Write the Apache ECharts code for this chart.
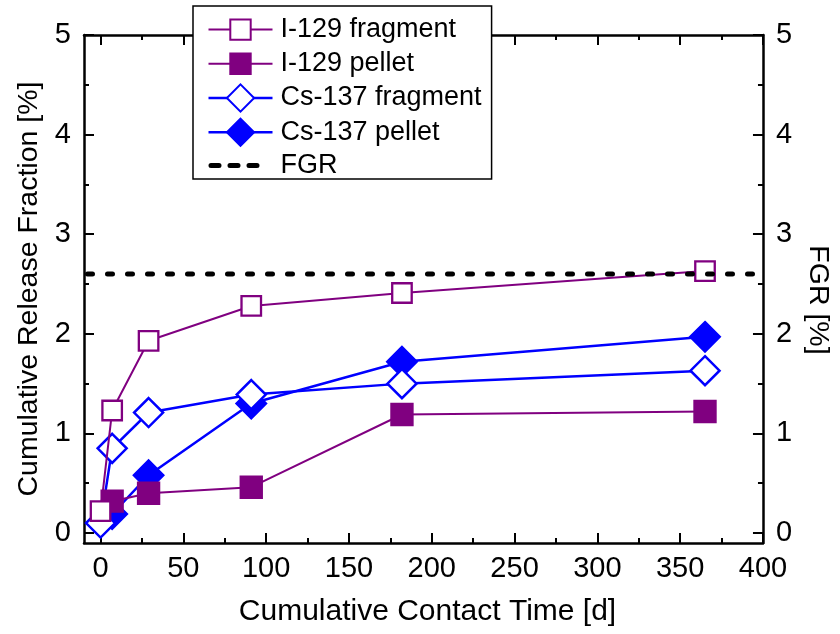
<!DOCTYPE html>
<html><head><meta charset="utf-8">
<script src="https://cdn.jsdelivr.net/npm/echarts@6/dist/echarts.min.js"></script>
<style>html,body{margin:0;padding:0;background:#fff}#c{width:840px;height:634px}</style>
</head><body><div id="c"></div>
<script>
// ---- data ----
const seriesNames = ['I-129 fragment', 'I-129 pellet', 'Cs-137 fragment', 'Cs-137 pellet', 'FGR'];
const i129FragmentTime = [0, 7, 29, 91, 182, 365];
const i129FragmentRelease = [0.22, 1.23, 1.93, 2.28, 2.41, 2.63];
const i129PelletTime = [7, 29, 91, 182, 365];
const i129PelletRelease = [0.32, 0.40, 0.46, 1.19, 1.22];
const cs137FragmentTime = [0, 7, 29, 91, 182, 365];
const cs137FragmentRelease = [0.10, 0.85, 1.21, 1.39, 1.50, 1.63];
const cs137PelletTime = [7, 29, 91, 182, 365];
const cs137PelletRelease = [0.19, 0.58, 1.30, 1.72, 1.97];
const fgrValue = 2.6;
const xMajorTicks = [0, 50, 100, 150, 200, 250, 300, 350, 400];
const xMinorTicks = [25, 75, 125, 175, 225, 275, 325, 375];
const yMajorTicks = [0, 1, 2, 3, 4, 5];
const yMinorTicks = [0.5, 1.5, 2.5, 3.5, 4.5];
const xMin = -10, xMax = 400, yMin = -0.1, yMax = 5;

// ---- styling ----
const FONT = '"Liberation Sans", Arial, sans-serif';
const PURPLE = '#800080', BLUE = '#0000FF';
const SQUARE = 'path://M0,0M40,40M5,5h30v30h-30z';
const pts = (xs, ys) => xs.map((x, i) => [x, ys[i]]);

function xAx(position, ticks, len, labels, line) {
  return {
    type: 'value', position, min: xMin, max: xMax,
    axisLine: { show: line, onZero: false, lineStyle: { color: '#000', width: 2.5 } },
    axisTick: { show: true, inside: true, length: len, customValues: ticks, lineStyle: { color: '#000', width: 2 } },
    axisLabel: { show: labels, customValues: ticks, fontSize: 29, color: '#000', fontFamily: FONT, margin: 11 },
    splitLine: { show: false }, minorTick: { show: false }
  };
}
function yAx(position, ticks, len, labels, line) {
  return {
    type: 'value', position, min: yMin, max: yMax,
    axisLine: { show: line, onZero: false, lineStyle: { color: '#000', width: 2.5 } },
    axisTick: { show: true, inside: true, length: len, customValues: ticks, lineStyle: { color: '#000', width: 2 } },
    axisLabel: { show: labels, customValues: ticks, fontSize: 29, color: '#000', fontFamily: FONT, margin: 13 },
    splitLine: { show: false }, minorTick: { show: false }
  };
}

const xBottom = xAx('bottom', xMajorTicks, 10, true, true);
xBottom.name = 'Cumulative Contact Time [d]';
xBottom.nameLocation = 'middle';
xBottom.nameGap = 54;
xBottom.nameTextStyle = { fontSize: 30, color: '#000', fontFamily: FONT, padding: [0, 0, 0, 8] };

const yLeft = yAx('left', yMajorTicks, 10, true, true);
yLeft.name = 'Cumulative Release Fraction [%]';
yLeft.nameLocation = 'middle';
yLeft.nameGap = 33;
yLeft.nameTextStyle = { fontSize: 28.5, color: '#000', fontFamily: FONT };

const yRight = yAx('right', yMajorTicks, 10, true, true);
yRight.name = 'FGR [%]';
yRight.nameLocation = 'middle';
yRight.nameRotate = -90;
yRight.nameGap = 33;
yRight.nameTextStyle = { fontSize: 28.5, color: '#000', fontFamily: FONT, padding: [0, 0, 0, 22] };

const option = {
  animation: false,
  backgroundColor: '#fff',
  grid: { left: 84, right: 70, top: 35, bottom: 91 },
  xAxis: [
    xBottom,
    xAx('bottom', xMinorTicks, 5, false, false),
    xAx('top', xMajorTicks, 10, false, true),
    xAx('top', xMinorTicks, 5, false, false)
  ],
  yAxis: [
    yLeft,
    yAx('left', yMinorTicks, 5, false, false),
    yRight,
    yAx('right', yMinorTicks, 5, false, false)
  ],
  legend: {
    left: 193, top: 6, orient: 'vertical',
    itemWidth: 64, itemHeight: 34, itemGap: 5,
    padding: [9, 10, 0, 13],
    borderColor: '#000', borderWidth: 1.5, backgroundColor: '#fff',
    selectedMode: false,
    textStyle: { fontSize: 27, color: '#000', fontFamily: FONT, padding: [0, 0, 0, 3] },
    data: [
      { name: seriesNames[0], lineStyle: { width: 2, color: PURPLE } },
      { name: seriesNames[1], lineStyle: { width: 2, color: PURPLE } },
      { name: seriesNames[2], lineStyle: { width: 2.5, color: BLUE } },
      { name: seriesNames[3], lineStyle: { width: 2.5, color: BLUE } },
      { name: seriesNames[4], itemStyle: { opacity: 0 },
        lineStyle: { width: 5, color: '#000', type: [8, 11, 8, 11, 8, 40], dashOffset: -2.5, cap: 'round' } }
    ]
  },
  series: [
    {
      name: seriesNames[0], type: 'line', z: 5, data: pts(i129FragmentTime, i129FragmentRelease),
      symbol: SQUARE, symbolSize: 26,
      itemStyle: { color: '#fff', borderColor: PURPLE, borderWidth: 2.3 },
      lineStyle: { color: PURPLE, width: 2 }, emphasis: { disabled: true }
    },
    {
      name: seriesNames[1], type: 'line', z: 4, data: pts(i129PelletTime, i129PelletRelease),
      symbol: SQUARE, symbolSize: 28.5,
      itemStyle: { color: PURPLE, borderColor: PURPLE, borderWidth: 2 },
      lineStyle: { color: PURPLE, width: 2 }, emphasis: { disabled: true }
    },
    {
      name: seriesNames[2], type: 'line', z: 3, data: pts(cs137FragmentTime, cs137FragmentRelease),
      symbol: 'diamond', symbolSize: 29,
      itemStyle: { color: '#fff', borderColor: BLUE, borderWidth: 2.5 },
      lineStyle: { color: BLUE, width: 2.5 }, emphasis: { disabled: true }
    },
    {
      name: seriesNames[3], type: 'line', z: 2, data: pts(cs137PelletTime, cs137PelletRelease),
      symbol: 'diamond', symbolSize: 30,
      itemStyle: { color: BLUE, borderColor: BLUE, borderWidth: 2 },
      lineStyle: { color: BLUE, width: 2.5 }, emphasis: { disabled: true }
    },
    {
      name: seriesNames[4], type: 'line', z: 6, data: [[xMin, fgrValue], [xMax, fgrValue]],
      symbol: 'none', itemStyle: { color: 'rgba(0,0,0,0)' },
      lineStyle: { color: '#000', width: 5, type: [5, 15], dashOffset: -3.5, cap: 'round' },
      emphasis: { disabled: true }
    }
  ]
};
const chart = echarts.init(document.getElementById('c'), null, { renderer: 'canvas' });
chart.setOption(option);
</script></body></html>
